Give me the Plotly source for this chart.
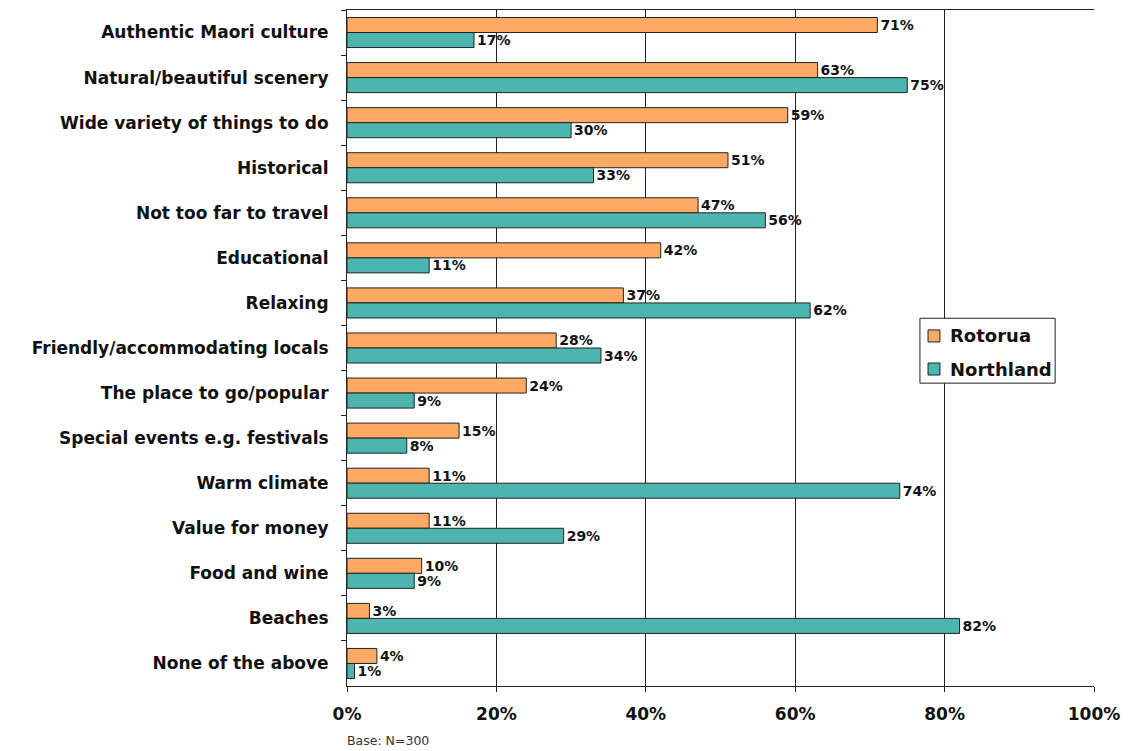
import plotly.graph_objects as go

categories = [
    "Authentic Maori culture",
    "Natural/beautiful scenery",
    "Wide variety of things to do",
    "Historical",
    "Not too far to travel",
    "Educational",
    "Relaxing",
    "Friendly/accommodating locals",
    "The place to go/popular",
    "Special events e.g. festivals",
    "Warm climate",
    "Value for money",
    "Food and wine",
    "Beaches",
    "None of the above",
]
rotorua = [71, 63, 59, 51, 47, 42, 37, 28, 24, 15, 11, 11, 10, 3, 4]
northland = [17, 75, 30, 33, 56, 11, 62, 34, 9, 8, 74, 29, 9, 82, 1]
x_ticks = [0, 20, 40, 60, 80, 100]

FONT = "DejaVu Sans"
INK = "#111111"
EDGE = "#222222"
series = [
    ("Rotorua", rotorua, "#FFAA64"),
    ("Northland", northland, "#4CB6AE"),
]

fig = go.Figure()
for name, vals, color in series:
    fig.add_trace(go.Bar(
        y=categories, x=vals, name=name, orientation="h",
        marker=dict(color=color, line=dict(color=EDGE, width=1)),
        text=[f"{v}%" for v in vals], textposition="outside",
        constraintext="none",
        textfont=dict(family=FONT, size=14, color=INK, weight="bold"),
        cliponaxis=False, showlegend=False,
    ))

# Boxed legend drawn in paper coordinates
shapes = [dict(type="rect", xref="paper", yref="paper",
               x0=0.767, x1=0.948, y0=0.448, y1=0.544,
               line=dict(color=EDGE, width=1), fillcolor="white", layer="above")]
annotations = []
for i, (name, _, color) in enumerate(series):
    yc = 0.5178 - i * 0.0489
    shapes.append(dict(type="rect", xref="paper", yref="paper",
                       x0=0.7778, x1=0.7938, y0=yc - 0.0089, y1=yc + 0.0089,
                       line=dict(color=EDGE, width=1), fillcolor=color, layer="above"))
    annotations.append(dict(text=name, xref="paper", yref="paper",
                            x=0.8046, y=yc, xanchor="left", yanchor="middle",
                            showarrow=False,
                            font=dict(family=FONT, size=18, color=INK, weight="bold")))

annotations.append(dict(
    text="Base: N=300", xref="paper", yref="paper",
    x=0, y=0, xanchor="left", yanchor="top", yshift=-45, xshift=-2,
    showarrow=False,
    font=dict(family=FONT, size=12.5, color="#333333"),
))

fig.update_layout(
    width=1129, height=751,
    margin=dict(l=347, r=35, t=10, b=65),
    paper_bgcolor="white", plot_bgcolor="white",
    barmode="group", bargap=1/3, bargroupgap=0,
    shapes=shapes, annotations=annotations,
    xaxis=dict(
        range=[0, 100], tickvals=x_ticks,
        ticktext=[f"{t}%" for t in x_ticks],
        showgrid=True, gridcolor=EDGE, gridwidth=1,
        showline=True, linecolor=EDGE, linewidth=1, mirror=True,
        ticks="outside", ticklen=5, tickcolor=EDGE,
        ticklabelstandoff=8,
        tickfont=dict(family=FONT, size=17, color=INK, weight="bold"),
        zeroline=False,
    ),
    yaxis=dict(
        autorange="reversed", type="category",
        showline=True, linecolor=EDGE, linewidth=1,
        ticks="outside", ticklen=5, tickcolor=EDGE,
        tickson="boundaries", ticklabelstandoff=14,
        tickfont=dict(family=FONT, size=17, color=INK, weight="bold"),
        showgrid=False,
    ),
)

fig.write_html("out.html")
